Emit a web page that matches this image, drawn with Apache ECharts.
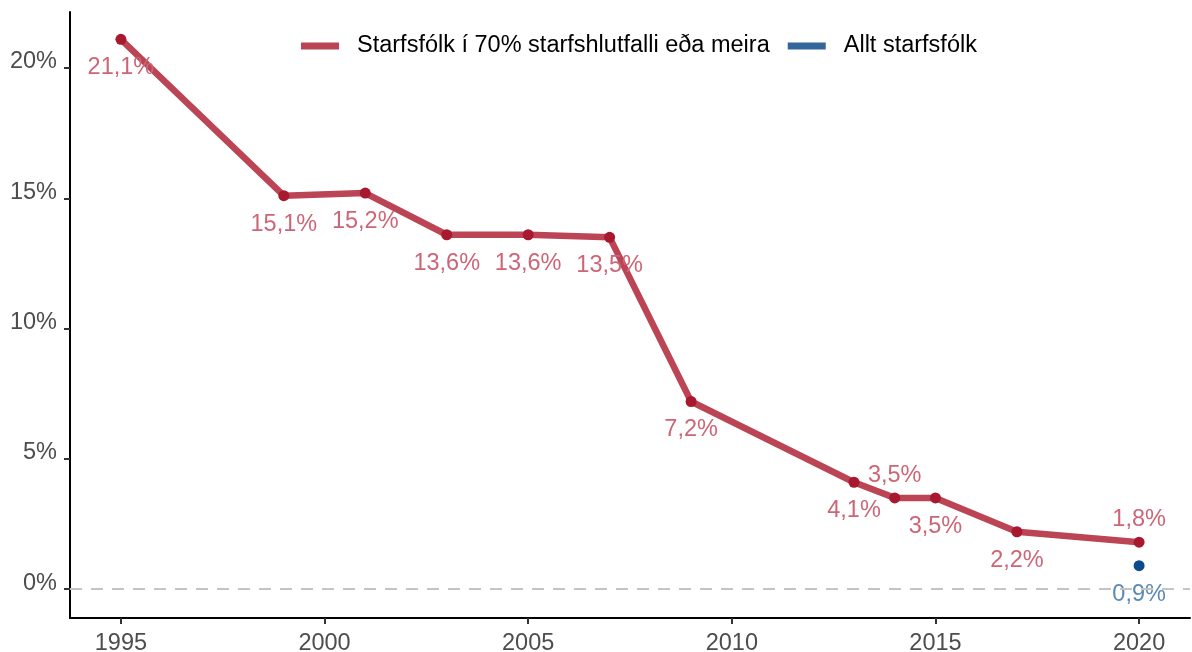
<!DOCTYPE html>
<html><head><meta charset="utf-8">
<script src="https://cdn.jsdelivr.net/npm/echarts@6/dist/echarts.min.js"></script>
<style>html,body{margin:0;padding:0;background:#fff}#c{width:1192px;height:652px}</style>
</head><body><div id="c"></div>
<script>
const years = [1995, 1999, 2001, 2003, 2005, 2007, 2009, 2013, 2014, 2015, 2017, 2020];
const fullTime = [21.1, 15.1, 15.2, 13.6, 13.6, 13.5, 7.2, 4.1, 3.5, 3.5, 2.2, 1.8];
const labelAbove = [false, false, false, false, false, false, false, false, true, false, false, true];
const allYears = [2020];
const allStaff = [0.9];
const xTicks = [1995, 2000, 2005, 2010, 2015, 2020];
const yTicks = [0, 5, 10, 15, 20];
const seriesNames = ['Starfsfólk í 70% starfshlutfalli eða meira', 'Allt starfsfólk'];

const fmt = v => v.toFixed(1).replace('.', ',') + '%';
const font = '"Liberation Sans", Arial, sans-serif';
const FS = 23.5;

const chart = echarts.init(document.getElementById('c'), null, {renderer: 'canvas'});
chart.setOption({
  animation: false,
  textStyle: {fontFamily: font},
  grid: {left: 70, right: 2, top: 12, bottom: 34, containLabel: false, outerBoundsMode: 'none'},
  legend: {
    top: 29, left: 296,
    icon: 'rect', itemWidth: 38, itemHeight: 7, itemGap: 18,
    textStyle: {fontSize: FS, color: '#000', fontFamily: font, padding: [0, 0, 0, 13]},
    data: [
      {name: seriesNames[0], itemStyle: {color: '#bb4455'}},
      {name: seriesNames[1], itemStyle: {color: '#336699'}}
    ]
  },
  xAxis: {
    type: 'value', min: 1993.75, max: 2021.25,
    splitLine: {show: false},
    axisLine: {onZero: false, lineStyle: {color: '#000', width: 2}},
    axisTick: {show: true, length: 6, lineStyle: {color: '#333', width: 2}, customValues: xTicks},
    axisLabel: {customValues: xTicks, fontSize: FS, color: '#4d4d4d', margin: 14, fontFamily: font, formatter: v => String(v)}
  },
  yAxis: {
    type: 'value', min: -1.11, max: 22.15,
    splitLine: {show: false},
    axisLine: {show: true, onZero: false, lineStyle: {color: '#000', width: 2}},
    axisTick: {show: true, length: 6, lineStyle: {color: '#333', width: 2}, customValues: yTicks},
    axisLabel: {customValues: yTicks, fontSize: FS, color: '#4d4d4d', margin: 13, fontFamily: font,
      verticalAlign: 'bottom', lineHeight: 12, formatter: v => v + '%'}
  },
  series: [
    {
      name: seriesNames[0], type: 'line',
      data: years.map((y, i) => ({
        value: [y, fullTime[i]],
        label: labelAbove[i] ? {position: 'top', distance: 5} : {position: 'bottom', distance: 11}
      })),
      lineStyle: {color: '#bb4455', width: 6.5},
      itemStyle: {color: '#a8182f'},
      symbol: 'circle', symbolSize: 11, showSymbol: true,
      label: {show: true, fontSize: FS, color: '#cc6677', fontFamily: font,
        formatter: p => fmt(p.value[1])},
      markLine: {
        silent: true, symbol: 'none', label: {show: false},
        lineStyle: {color: '#c4c4c4', width: 2, type: [12, 9]},
        data: [{yAxis: 0}]
      },
      z: 3
    },
    {
      name: seriesNames[1], type: 'line',
      data: allYears.map((y, i) => [y, allStaff[i]]),
      itemStyle: {color: '#0b4c8a'},
      lineStyle: {color: '#336699', width: 6},
      symbol: 'circle', symbolSize: 11, showSymbol: true,
      label: {show: true, position: 'bottom', fontSize: FS, color: '#5b89b5', distance: 11, fontFamily: font,
        formatter: p => fmt(p.value[1])},
      z: 3
    }
  ]
});
</script></body></html>
